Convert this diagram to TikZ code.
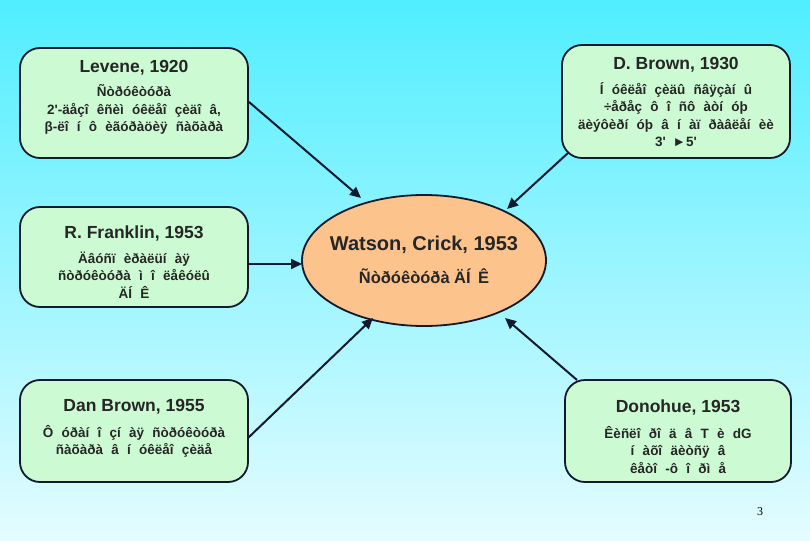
\documentclass[tikz,border=0pt]{standalone}
\usepackage{fontspec}
\setmainfont{Liberation Sans}
\newfontfamily\serifpn{Liberation Serif}
\newfontfamily\bodyfont[WordSpace=2.2]{Liberation Sans}
\usetikzlibrary{arrows.meta,shapes.geometric}
\definecolor{bgtop}{RGB}{80,238,255}
\definecolor{bgbot}{RGB}{228,252,255}
\definecolor{boxfill}{RGB}{204,250,210}
\definecolor{ellfill}{RGB}{252,196,140}
\definecolor{linec}{RGB}{18,26,48}
\tikzset{
  infobox/.style={draw=linec, line width=1.8pt, fill=boxfill, rounded corners=20pt, inner sep=0pt},
  ttl/.style={font=\fontsize{17.5}{20}\bfseries, text=black!85},
  body/.style={font=\bodyfont\fontsize{13.5}{17.3}\bfseries, align=center, text=black!85},
  conn/.style={draw=linec, line width=2pt, -{Triangle[length=11pt,width=10pt]}}
}
\begin{document}
\begin{tikzpicture}[x=1pt,y=-1pt]
\shade[top color=bgtop, bottom color=bgbot] (0,0) rectangle (810,540);
\useasboundingbox (0,0) rectangle (810,540);

% boxes
\node[infobox, minimum width=228pt, minimum height=110pt] (lev) at (134,103) {};
\node[infobox, minimum width=228pt, minimum height=113pt] (dbr) at (676,101.5) {};
\node[infobox, minimum width=228pt, minimum height=100pt] (fra) at (134,257) {};
\node[infobox, minimum width=228pt, minimum height=102pt] (dan) at (134,431) {};
\node[infobox, minimum width=226pt, minimum height=102pt] (don) at (678,431) {};
\node[draw=linec, line width=1.8pt, fill=ellfill, ellipse, minimum width=244pt, minimum height=131pt, inner sep=0pt] (wc) at (424,260.5) {};

% texts
\node[ttl] (levT) at (134,68) {Levene, 1920};
\node[body] (levB) at (134,109.5) {Ñòðóêòóðà\\2'-äåçî êñèì óêëåî çèäî â,\\β-ëî í ô èãóðàöèÿ ñàõàðà};

\node[ttl] (dbrT) at (676,65) {D. Brown, 1930};
\node[body] (dbrB) at (676,114.5) {Í óêëåî çèäû ñâÿçàí û\\÷åðåç ô î ñô àòí óþ\\äèýôèðí óþ â í àï ðàâëåí èè\\3'\enspace ►5'};

\node[ttl] (fraT) at (134,234) {R. Franklin, 1953};
\node[body] (fraB) at (134,275) {Äâóñï èðàëüí àÿ\\ñòðóêòóðà ì î ëåêóëû\\ÄÍ Ê};

\node[ttl] (danT) at (134,407) {Dan Brown, 1955};
\node[body] (danB) at (134,441.5) {Ô óðàí î çí àÿ ñòðóêòóðà\\ñàõàðà â í óêëåî çèäå};

\node[ttl] (donT) at (678,408) {Donohue, 1953};
\node[body] (donB) at (678,450) {Êèñëî ðî ä â T è dG\\í àõî äèòñÿ â\\êåòî -ô î ðì å};

\node[font=\fontsize{20}{24}\bfseries, text=black!85] (wcT) at (424,245) {Watson, Crick, 1953};
\node[font=\fontsize{16.5}{20}\bfseries, text=black!85] (wcB) at (424,276) {Ñòðóêòóðà ÄÍ\, Ê};

\node[font=\serifpn\fontsize{12}{14}\selectfont] (pg) at (760,512) {3};

% connectors
\coordinate (levA) at (249,102);
\coordinate (wcA) at (361,198);
\coordinate (dbrA) at (568,153);
\coordinate (wcB1) at (507,209);
\coordinate (fraA) at (249,264);
\coordinate (wcC) at (302,264);
\coordinate (danA) at (248,438);
\coordinate (wcD) at (373,318);
\coordinate (donA) at (577,380);
\coordinate (wcE) at (505,318);
\draw[conn] (levA) -- (wcA);
\draw[conn] (dbrA) -- (wcB1);
\draw[conn] (fraA) -- (wcC);
\draw[conn] (danA) -- (wcD);
\draw[conn] (donA) -- (wcE);
\end{tikzpicture}
\end{document}
